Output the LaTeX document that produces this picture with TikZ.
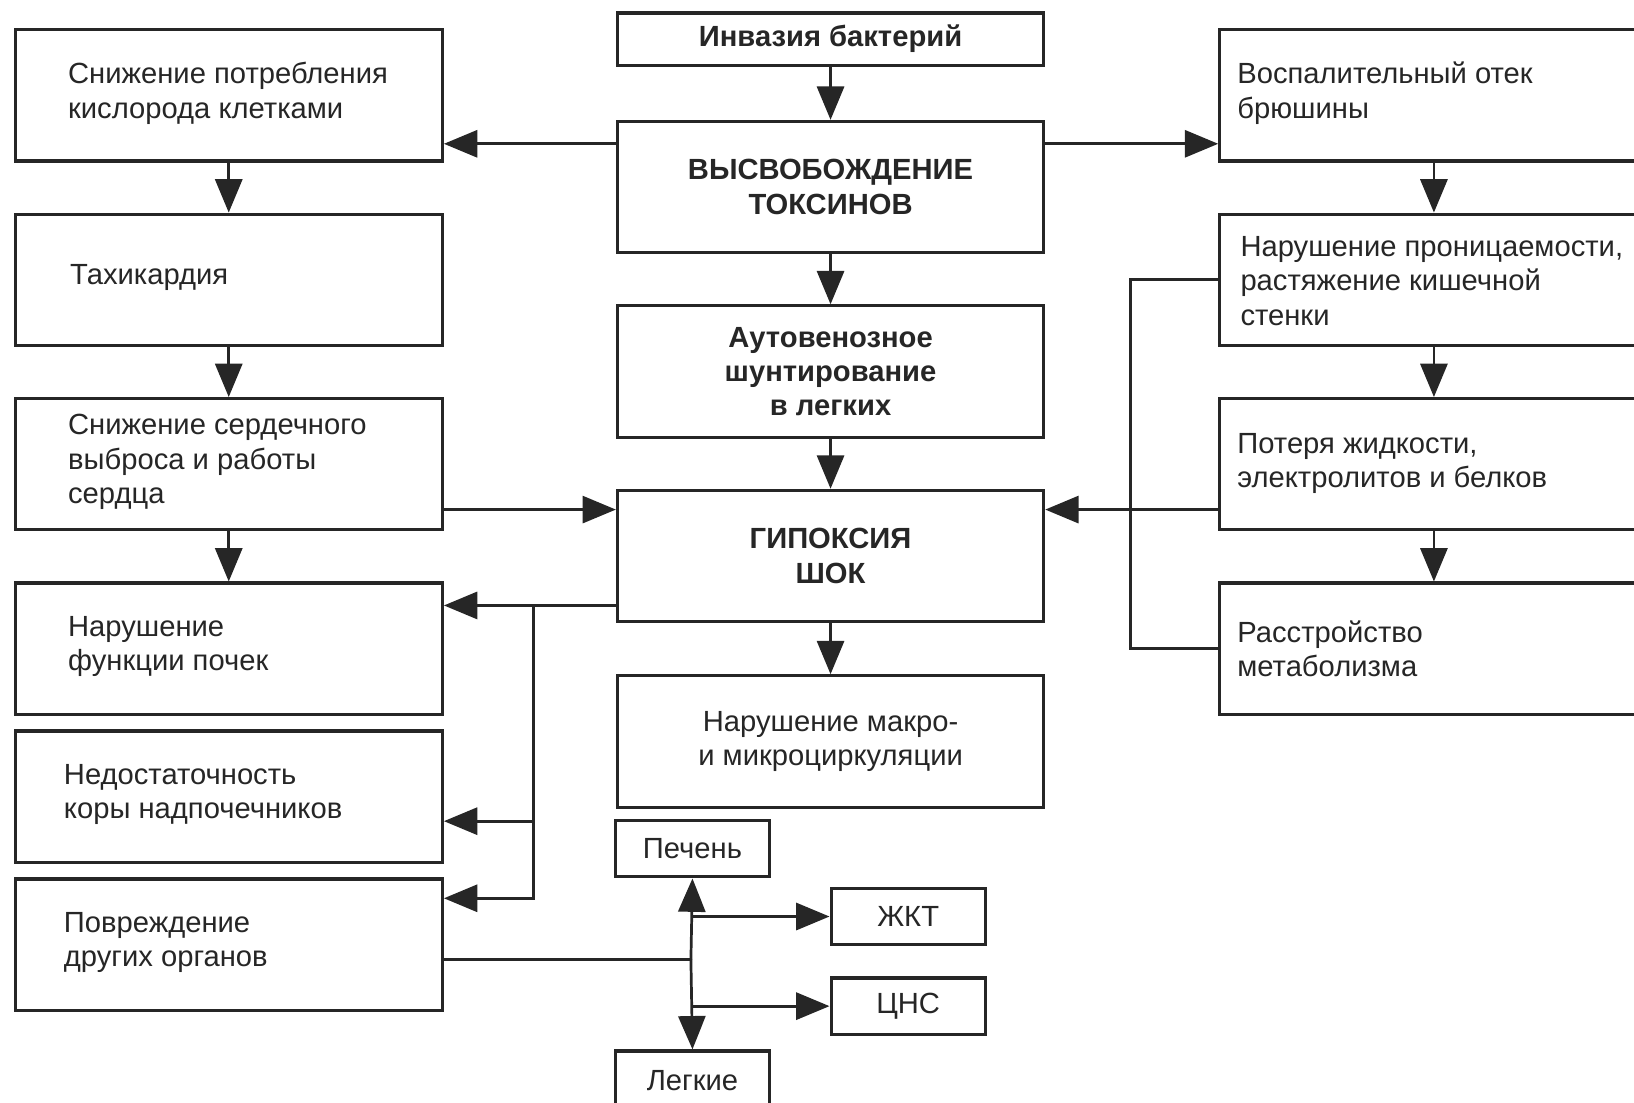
\documentclass[tikz,border=0pt]{standalone}
\usepackage{fontspec}
\setmainfont{Liberation Sans}
\usetikzlibrary{arrows.meta,calc}
\begin{document}
\begin{tikzpicture}[x=0.5pt,y=-0.5pt,
  box/.style={draw=black!85, line width=1.5pt, anchor=north west, inner sep=0pt, fill=white},
  lbox/.style={box, minimum width=205pt, minimum height=63pt},
  cbox/.style={box, minimum width=204.5pt, minimum height=63pt, align=center, font=\fontsize{14pt}{16.5pt}\selectfont\bfseries, text=black!85},
  rbox/.style={box, minimum width=225pt, minimum height=63pt},
  sbox/.style={box, minimum width=74pt, minimum height=27pt, font=\fontsize{14pt}{16.5pt}\selectfont, text=black!85},
  txt/.style={anchor=west, align=left, inner sep=0pt, font=\fontsize{14pt}{16.5pt}\selectfont, text=black!85},
  arr/.style={line width=1.3pt, draw=black!85, -{Triangle[length=16pt,width=13pt]}},
  ln/.style={line width=1.3pt, draw=black!85}]
\useasboundingbox (0,0) rectangle (1568,1058);

% left column
\node[lbox] (l1) at (13,27) {};
\node[lbox] (l2) at (13,204) {};
\node[lbox] (l3) at (13,381) {};
\node[lbox] (l4) at (13,558) {};
\node[lbox] (l5) at (13,700) {};
\node[lbox] (l6) at (13,842) {};
\node[txt] (l1t) at ([xshift=26pt,yshift=1pt]l1.west) {Снижение потребления\\кислорода клетками};
\node[txt] (l2t) at ([xshift=27pt,yshift=1pt]l2.west) {Тахикардия};
\node[txt] (l3t) at ([xshift=26pt,yshift=1pt]l3.west) {Снижение сердечного\\выброса и работы\\сердца};
\node[txt] (l4t) at ([xshift=26pt,yshift=1pt]l4.west) {Нарушение\\функции почек};
\node[txt] (l5t) at ([xshift=24pt,yshift=1pt]l5.west) {Недостаточность\\коры надпочечников};
\node[txt] (l6t) at ([xshift=24pt,yshift=1pt]l6.west) {Повреждение\\других органов};

% center column
\node[cbox, minimum height=25pt] (c0) at (591,11) {Инвазия бактерий};
\node[cbox] (c1) at (591,115) {ВЫСВОБОЖДЕНИЕ\\ТОКСИНОВ};
\node[cbox] (c2) at (591,292) {Аутовенозное\\шунтирование\\в легких};
\node[cbox] (c3) at (591,469) {ГИПОКСИЯ\\ШОК};
\node[cbox, font=\fontsize{14pt}{16.5pt}\selectfont] (c4) at (591,647) {Нарушение макро-\\и микроциркуляции};

% right column
\node[rbox] (r1) at (1169,27) {};
\node[rbox] (r2) at (1169,204) {};
\node[rbox] (r3) at (1169,381) {};
\node[rbox] (r4) at (1169,558) {};
\node[txt] (r1t) at ([xshift=9pt,yshift=1pt]r1.west) {Воспалительный отек\\брюшины};
\node[txt] (r2t) at ([xshift=10.5pt,yshift=-0.5pt]r2.west) {Нарушение проницаемости,\\растяжение кишечной\\стенки};
\node[txt] (r3t) at ([xshift=9pt,yshift=0.5pt]r3.west) {Потеря жидкости,\\электролитов и белков};
\node[txt] (r4t) at ([xshift=9pt]r4.west) {Расстройство\\метаболизма};

% small boxes
\node[sbox] (pech) at (589,786) {Печень};
\node[sbox] (zhkt) at (796,851) {ЖКТ};
\node[sbox] (czns) at (796,937) {ЦНС};
\node[sbox, minimum height=28pt] (legk) at (589,1007) {Легкие};

% connectors
\draw[arr] (c0) -- (c1);
\draw[arr] (c1) -- (c2);
\draw[arr] (c2) -- (c3);
\draw[arr] (c3) -- (c4);

\coordinate (p1) at ($(c1.north west)+(0,23)$);
\draw[arr] (p1) -- (p1 -| l1.east);
\draw[arr] (c1.east |- p1) -- (p1 -| r1.west);

\draw[arr] (l1) -- (l2);
\draw[arr] (l2) -- (l3);
\draw[arr] (l3) -- (l4);

\coordinate (rx) at (1376,0);
\draw[arr] (r1.south -| rx) -- (r2.north -| rx);
\draw[arr] (r2.south -| rx) -- (r3.north -| rx);
\draw[arr] (r3.south -| rx) -- (r4.north -| rx);

\coordinate (p3) at ($(c3.north west)+(0,20)$);
\draw[arr] (p3 -| l3.east) -- (p3);
\draw[ln] (r2.west) -- ++(-84,0) |- (r4.west);
\draw[arr] (p3 -| r3.west) -- (c3.east |- p3);

\coordinate (p4) at ($(c3.south west)+(0,-17)$);
\coordinate (j) at (512,0);
\draw[arr] (p4) -- (p4 -| l4.east);
\draw[arr] (p4 -| j) |- ($(l5.north east)+(0,88)$);
\draw[arr] (p4 -| j) |- ($(l6.north east)+(0,20)$);

\coordinate (k) at (663,921);
\draw[ln] (l6.east |- k) -- (k);
\draw[arr] (k) -- (pech.south);
\draw[arr] (k) -- (legk.north);
\draw[arr] (zhkt.west -| k) -- (zhkt.west);
\draw[arr] (czns.west -| k) -- (czns.west);
\end{tikzpicture}
\end{document}
